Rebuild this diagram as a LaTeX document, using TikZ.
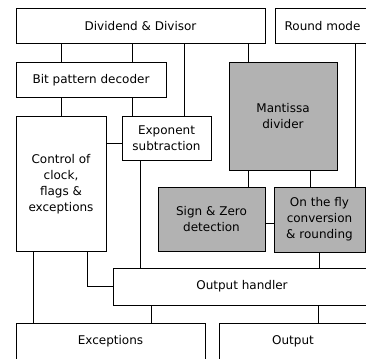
\documentclass[tikz,border=0pt]{standalone}
\usepackage{fontspec}
\setmainfont{DejaVu Sans}
\begin{document}
\begin{tikzpicture}[x=1pt, y=-1pt, line width=1pt,
  every node/.style={font=\fontsize{12}{16}\selectfont, align=center},
  blk/.style={draw, rectangle, inner sep=0pt},
  shblk/.style={blk, fill=black!30}]
  \useasboundingbox (0,0) rectangle (366,358);
  \clip (0,0) rectangle (366,358);
  % input blocks
  \node[blk, minimum width=249pt, minimum height=35pt] (divd) at (140.5,26.5) {Dividend \& Divisor};
  \node[blk, minimum width=95pt, minimum height=35pt] (rmode) at (322.5,26.5) {Round mode};
  \node[blk, minimum width=150pt, minimum height=35pt] (bpd) at (91,80.5) {Bit pattern decoder};
  % middle blocks
  \node[blk, minimum width=90pt, minimum height=134pt] (ctrl) at (61,184) {Control of\\clock,\\flags \&\\exceptions};
  \node[blk, minimum width=89pt, minimum height=43pt] (expo) at (166.5,138.5) {Exponent\\subtraction};
  \node[shblk, minimum width=108pt, minimum height=107pt] (mant) at (283,116.5) {Mantissa\\divider};
  \node[shblk, minimum width=107pt, minimum height=64pt] (sign) at (211.5,219) {Sign \& Zero\\detection};
  \node[shblk, minimum width=91pt, minimum height=65pt] (otf) at (319.5,219.5) {On the fly\\conversion\\\& rounding};
  % output blocks
  \node[blk, minimum width=258pt, minimum height=37pt] (outh) at (242,286.5) {Output handler};
  \node[blk, minimum width=189pt, minimum height=37pt] (exc) at (110.5,341.5) {Exceptions};
  \node[blk, minimum width=148pt, minimum height=37pt] (outp) at (293,341.5) {Output};
  % connections
  \draw (divd.south -| 61,0) -- (bpd.north -| 61,0);
  \draw (divd.south -| 132,0) -- (bpd.north -| 132,0);
  \draw (bpd.south -| 61,0) -- (ctrl.north -| 61,0);
  \draw (bpd.south -| 132,0) -- (expo.north -| 132,0);
  \draw (divd.south -| 184,0) -- (expo.north -| 184,0);
  \draw (divd.south -| 248,0) -- (mant.north -| 248,0);
  \draw (rmode.south -| 355,0) -- (otf.north -| 355,0);
  \draw (ctrl.east |- 0,144) -- (expo.west |- 0,144);
  \draw (mant.south -| 248,0) -- (sign.north -| 248,0);
  \draw (mant.south -| 310,0) -- (otf.north -| 310,0);
  \draw (sign.east |- 0,223) -- (otf.west |- 0,223);
  \draw (expo.south -| 140,0) -- (outh.north -| 140,0);
  \draw (otf.south -| 319,0) -- (outh.north -| 319,0);
  \draw (ctrl.south -| 87,0) |- (outh.west);
  \draw (ctrl.south -| 33,0) -- (exc.north -| 33,0);
  \draw (outh.south -| 151,0) -- (exc.north -| 151,0);
  \draw (outh.south -| 318,0) -- (outp.north -| 318,0);
\end{tikzpicture}
\end{document}
